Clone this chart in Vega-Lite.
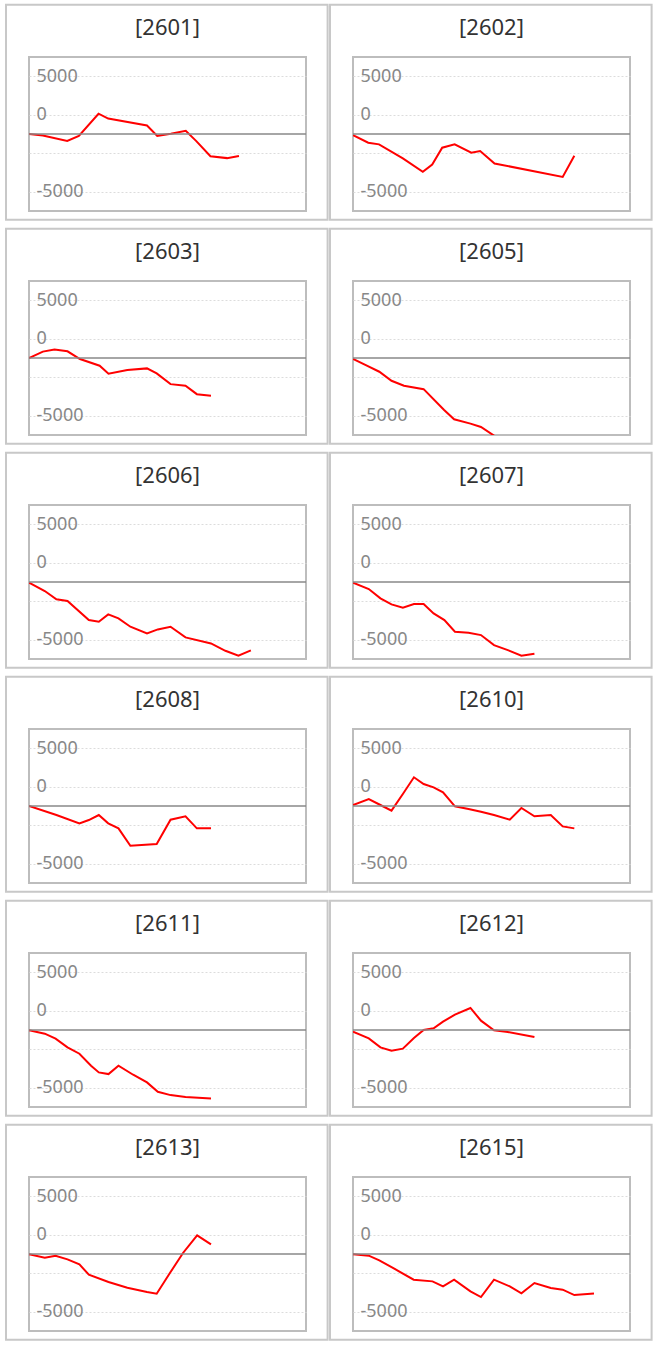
{
  "$schema": "https://vega.github.io/schema/vega-lite/v6.json",
  "padding": {"top": 2, "left": 4, "right": 4, "bottom": 4},
  "bounds": "flush",
  "background": "white",
  "data": {
    "values": [
      {"code": "[2601]", "t": 0, "v": 0}, {"code": "[2601]", "t": 5, "v": -130}, {"code": "[2601]", "t": 13.8, "v": -595},
      {"code": "[2601]", "t": 18, "v": -160}, {"code": "[2601]", "t": 25.1, "v": 1755}, {"code": "[2601]", "t": 28.6, "v": 1334},
      {"code": "[2601]", "t": 42.6, "v": 740}, {"code": "[2601]", "t": 46.3, "v": -160}, {"code": "[2601]", "t": 51.2, "v": 29},
      {"code": "[2601]", "t": 56.6, "v": 275}, {"code": "[2601]", "t": 60.4, "v": -620}, {"code": "[2601]", "t": 65.5, "v": -1930},
      {"code": "[2601]", "t": 71.5, "v": -2088}, {"code": "[2601]", "t": 75.8, "v": -1900},

      {"code": "[2602]", "t": 0, "v": -90}, {"code": "[2602]", "t": 5.5, "v": -754}, {"code": "[2602]", "t": 9.4, "v": -899},
      {"code": "[2602]", "t": 18, "v": -2117}, {"code": "[2602]", "t": 25.2, "v": -3277}, {"code": "[2602]", "t": 28.6, "v": -2639},
      {"code": "[2602]", "t": 32.2, "v": -1189}, {"code": "[2602]", "t": 36.7, "v": -899}, {"code": "[2602]", "t": 42.7, "v": -1624},
      {"code": "[2602]", "t": 45.9, "v": -1479}, {"code": "[2602]", "t": 51.1, "v": -2552}, {"code": "[2602]", "t": 75.7, "v": -3712},
      {"code": "[2602]", "t": 79.9, "v": -1885},

      {"code": "[2603]", "t": 0, "v": 0}, {"code": "[2603]", "t": 5, "v": 551}, {"code": "[2603]", "t": 9.2, "v": 725},
      {"code": "[2603]", "t": 13.9, "v": 580}, {"code": "[2603]", "t": 18.4, "v": -87}, {"code": "[2603]", "t": 25.5, "v": -667},
      {"code": "[2603]", "t": 28.7, "v": -1363}, {"code": "[2603]", "t": 35.5, "v": -1044}, {"code": "[2603]", "t": 42.6, "v": -899},
      {"code": "[2603]", "t": 46.1, "v": -1334}, {"code": "[2603]", "t": 51.1, "v": -2262}, {"code": "[2603]", "t": 56.5, "v": -2407},
      {"code": "[2603]", "t": 60.6, "v": -3132}, {"code": "[2603]", "t": 65.7, "v": -3277},

      {"code": "[2605]", "t": 0, "v": -80}, {"code": "[2605]", "t": 5, "v": -667}, {"code": "[2605]", "t": 9.5, "v": -1189},
      {"code": "[2605]", "t": 13.9, "v": -1972}, {"code": "[2605]", "t": 18.4, "v": -2407}, {"code": "[2605]", "t": 25.5, "v": -2697},
      {"code": "[2605]", "t": 32.9, "v": -4495}, {"code": "[2605]", "t": 36.5, "v": -5307}, {"code": "[2605]", "t": 42.4, "v": -5684},
      {"code": "[2605]", "t": 46.2, "v": -5974}, {"code": "[2605]", "t": 51.1, "v": -6750},

      {"code": "[2606]", "t": 0, "v": -58}, {"code": "[2606]", "t": 5.7, "v": -780}, {"code": "[2606]", "t": 9.9, "v": -1502},
      {"code": "[2606]", "t": 13.9, "v": -1647}, {"code": "[2606]", "t": 21.6, "v": -3295}, {"code": "[2606]", "t": 25.2, "v": -3439},
      {"code": "[2606]", "t": 28.6, "v": -2803}, {"code": "[2606]", "t": 32.3, "v": -3150}, {"code": "[2606]", "t": 36.6, "v": -3873},
      {"code": "[2606]", "t": 42.6, "v": -4451}, {"code": "[2606]", "t": 46.5, "v": -4104}, {"code": "[2606]", "t": 51.1, "v": -3873},
      {"code": "[2606]", "t": 56.5, "v": -4798}, {"code": "[2606]", "t": 65.7, "v": -5318}, {"code": "[2606]", "t": 70.9, "v": -5954},
      {"code": "[2606]", "t": 75.6, "v": -6387}, {"code": "[2606]", "t": 80.1, "v": -5924},

      {"code": "[2607]", "t": 0, "v": -58}, {"code": "[2607]", "t": 5.7, "v": -607}, {"code": "[2607]", "t": 9.9, "v": -1416},
      {"code": "[2607]", "t": 13.9, "v": -1936}, {"code": "[2607]", "t": 18, "v": -2225}, {"code": "[2607]", "t": 22, "v": -1907},
      {"code": "[2607]", "t": 25.5, "v": -1907}, {"code": "[2607]", "t": 29.1, "v": -2716}, {"code": "[2607]", "t": 33, "v": -3295},
      {"code": "[2607]", "t": 36.8, "v": -4306}, {"code": "[2607]", "t": 41.7, "v": -4393}, {"code": "[2607]", "t": 46.2, "v": -4595},
      {"code": "[2607]", "t": 50.9, "v": -5462}, {"code": "[2607]", "t": 55.9, "v": -5896}, {"code": "[2607]", "t": 60.8, "v": -6387},
      {"code": "[2607]", "t": 65.5, "v": -6214},

      {"code": "[2608]", "t": 0, "v": 0}, {"code": "[2608]", "t": 9.9, "v": -780}, {"code": "[2608]", "t": 18.2, "v": -1503},
      {"code": "[2608]", "t": 21.6, "v": -1214}, {"code": "[2608]", "t": 25.2, "v": -780}, {"code": "[2608]", "t": 28.6, "v": -1503},
      {"code": "[2608]", "t": 32.3, "v": -1936}, {"code": "[2608]", "t": 36.6, "v": -3439}, {"code": "[2608]", "t": 46.1, "v": -3295},
      {"code": "[2608]", "t": 51.1, "v": -1185}, {"code": "[2608]", "t": 56.5, "v": -896}, {"code": "[2608]", "t": 60.6, "v": -1936},
      {"code": "[2608]", "t": 65.7, "v": -1936},

      {"code": "[2610]", "t": 0, "v": 87}, {"code": "[2610]", "t": 5.7, "v": 607}, {"code": "[2610]", "t": 9.9, "v": 87},
      {"code": "[2610]", "t": 13.9, "v": -405}, {"code": "[2610]", "t": 18, "v": 1040}, {"code": "[2610]", "t": 22, "v": 2485},
      {"code": "[2610]", "t": 25.5, "v": 1907}, {"code": "[2610]", "t": 29.1, "v": 1618}, {"code": "[2610]", "t": 32.5, "v": 1185},
      {"code": "[2610]", "t": 36.8, "v": -29}, {"code": "[2610]", "t": 41.7, "v": -260}, {"code": "[2610]", "t": 46.2, "v": -491},
      {"code": "[2610]", "t": 50.9, "v": -780}, {"code": "[2610]", "t": 56.6, "v": -1185}, {"code": "[2610]", "t": 60.8, "v": -173},
      {"code": "[2610]", "t": 65.5, "v": -896}, {"code": "[2610]", "t": 71.4, "v": -780}, {"code": "[2610]", "t": 75.7, "v": -1763},
      {"code": "[2610]", "t": 79.9, "v": -1936},

      {"code": "[2611]", "t": 0, "v": -29}, {"code": "[2611]", "t": 5.7, "v": -318}, {"code": "[2611]", "t": 9.6, "v": -751},
      {"code": "[2611]", "t": 13.9, "v": -1503}, {"code": "[2611]", "t": 18.2, "v": -2052}, {"code": "[2611]", "t": 22.4, "v": -3092},
      {"code": "[2611]", "t": 25.2, "v": -3670}, {"code": "[2611]", "t": 28.7, "v": -3815}, {"code": "[2611]", "t": 32.3, "v": -3092},
      {"code": "[2611]", "t": 37.6, "v": -3873}, {"code": "[2611]", "t": 42.6, "v": -4538}, {"code": "[2611]", "t": 46.5, "v": -5347},
      {"code": "[2611]", "t": 51.1, "v": -5636}, {"code": "[2611]", "t": 56.5, "v": -5809}, {"code": "[2611]", "t": 65.7, "v": -5925},

      {"code": "[2612]", "t": 0, "v": -145}, {"code": "[2612]", "t": 5.7, "v": -723}, {"code": "[2612]", "t": 9.9, "v": -1503},
      {"code": "[2612]", "t": 13.9, "v": -1792}, {"code": "[2612]", "t": 18, "v": -1618}, {"code": "[2612]", "t": 22, "v": -694},
      {"code": "[2612]", "t": 25.5, "v": 0}, {"code": "[2612]", "t": 29.1, "v": 145}, {"code": "[2612]", "t": 32.5, "v": 723},
      {"code": "[2612]", "t": 36.8, "v": 1329}, {"code": "[2612]", "t": 42.4, "v": 1907}, {"code": "[2612]", "t": 46.2, "v": 809},
      {"code": "[2612]", "t": 50.9, "v": -29}, {"code": "[2612]", "t": 55.9, "v": -173}, {"code": "[2612]", "t": 65.5, "v": -607},

      {"code": "[2613]", "t": 0, "v": -29}, {"code": "[2613]", "t": 5.7, "v": -318}, {"code": "[2613]", "t": 9.6, "v": -145},
      {"code": "[2613]", "t": 13.9, "v": -462}, {"code": "[2613]", "t": 18.2, "v": -896}, {"code": "[2613]", "t": 21.6, "v": -1792},
      {"code": "[2613]", "t": 28.7, "v": -2428}, {"code": "[2613]", "t": 35.5, "v": -2919}, {"code": "[2613]", "t": 42.6, "v": -3295},
      {"code": "[2613]", "t": 46.1, "v": -3439}, {"code": "[2613]", "t": 51.1, "v": -1561}, {"code": "[2613]", "t": 55.6, "v": 87},
      {"code": "[2613]", "t": 60.7, "v": 1618}, {"code": "[2613]", "t": 65.7, "v": 838},

      {"code": "[2615]", "t": 0, "v": -29}, {"code": "[2615]", "t": 5.7, "v": -145}, {"code": "[2615]", "t": 9.5, "v": -549},
      {"code": "[2615]", "t": 14.9, "v": -1272}, {"code": "[2615]", "t": 21.9, "v": -2225}, {"code": "[2615]", "t": 28.7, "v": -2370},
      {"code": "[2615]", "t": 32.5, "v": -2803}, {"code": "[2615]", "t": 36.5, "v": -2225}, {"code": "[2615]", "t": 42.4, "v": -3237},
      {"code": "[2615]", "t": 46.2, "v": -3728}, {"code": "[2615]", "t": 50.9, "v": -2225}, {"code": "[2615]", "t": 56.6, "v": -2803},
      {"code": "[2615]", "t": 60.8, "v": -3410}, {"code": "[2615]", "t": 65.5, "v": -2514}, {"code": "[2615]", "t": 71.4, "v": -2948},
      {"code": "[2615]", "t": 75.7, "v": -3092}, {"code": "[2615]", "t": 79.9, "v": -3555}, {"code": "[2615]", "t": 87, "v": -3410}
    ]
  },
  "facet": {
    "field": "code",
    "type": "nominal",
    "title": null,
    "header": {"labelFont": "Noto Sans", "labelFontSize": 22, "labelColor": "#333333", "labelPadding": -36}
  },
  "columns": 2,
  "spacing": {"row": 70, "column": 47},
  "resolve": {"axis": {"y": "independent"}},
  "spec": {
    "width": 277,
    "height": 154,
    "layer": [
      {
        "mark": {"type": "line", "color": "#ff0000", "strokeWidth": 2, "clip": true},
        "encoding": {
          "x": {"field": "t", "type": "quantitative", "scale": {"domain": [0, 100], "nice": false, "zero": false}, "axis": null},
          "y": {
            "field": "v",
            "type": "quantitative",
            "scale": {"domain": [-6666.67, 6666.67], "nice": false, "zero": false},
            "axis": {
              "title": null,
              "values": [-5000, -3333.33, -1666.67, 0, 1666.67, 3333.33, 5000],
              "grid": true,
              "gridColor": "#dcdcdc",
              "gridDash": [2, 2],
              "gridWidth": 1,
              "domain": false,
              "ticks": false,
              "tickSize": 0,
              "labelExpr": "datum.value == 5000 ? '5000' : datum.value == 1666.67 ? '0' : datum.value == -5000 ? '-5000' : ''",
              "labelAlign": "left",
              "labelPadding": -7,
              "labelFont": "Noto Sans",
              "labelFontSize": 18,
              "labelColor": "#888888",
              "labelOverlap": false,
              "labelFlush": false
            }
          }
        }
      },
      {
        "transform": [{"filter": "datum.t == 0"}],
        "mark": {"type": "rule", "color": "#888888", "strokeWidth": 1.5},
        "encoding": {"y": {"datum": 0, "type": "quantitative"}}
      },
      {
        "transform": [{"filter": "datum.t == 0"}],
        "mark": {"type": "rect", "fillOpacity": 0, "stroke": "#c8c8c8", "strokeWidth": 2, "clip": false},
        "encoding": {
          "x": {"datum": -8.3, "type": "quantitative"},
          "x2": {"datum": 107.8},
          "y": {"datum": 11195, "type": "quantitative"},
          "y2": {"datum": -7430}
        }
      }
    ]
  },
  "config": {"view": {"stroke": "#bdbdbd", "strokeWidth": 2}}
}
